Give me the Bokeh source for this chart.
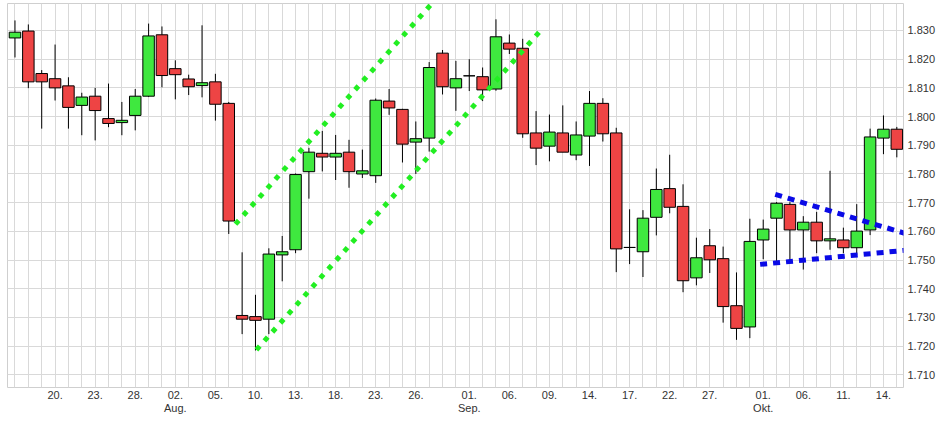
from bokeh.plotting import figure
from bokeh.models import Range1d, FixedTicker, LinearAxis, ColumnDataSource
from bokeh.embed import file_html
from bokeh.resources import INLINE

# ---------------- data ----------------
opens = [1.8274, 1.8298, 1.8150, 1.8132, 1.8107, 1.8039, 1.8071, 1.7993, 1.7979, 1.8004,
         1.8071, 1.8285, 1.8167, 1.8131, 1.8108, 1.8121, 1.8046, 1.7307, 1.7303, 1.7294,
         1.7518, 1.7536, 1.7808, 1.7872, 1.7859, 1.7876, 1.7800, 1.7794, 1.8054, 1.8025,
         1.7911, 1.7925, 1.8221, 1.8100, 1.8142, 1.8139, 1.8096, 1.8256, 1.8238, 1.7943,
         1.7897, 1.7943, 1.7866, 1.7932, 1.8046, 1.7943, 1.7544, 1.7529, 1.7649, 1.7749,
         1.7687, 1.7438, 1.7550, 1.7505, 1.7341, 1.7267, 1.7570, 1.7646, 1.7694, 1.7605,
         1.7632, 1.7567, 1.7570, 1.7543, 1.7605, 1.7925, 1.7956]
highs = [1.8335, 1.8321, 1.8162, 1.8251, 1.8137, 1.8083, 1.8100, 1.8115, 1.8051, 1.8096,
         1.8324, 1.8314, 1.8196, 1.8146, 1.8318, 1.8149, 1.8051, 1.7527, 1.7379, 1.7541,
         1.7584, 1.7802, 1.7891, 1.7950, 1.7936, 1.7919, 1.7885, 1.8063, 1.8096, 1.8027,
         1.7983, 1.8190, 1.8232, 1.8194, 1.8200, 1.8171, 1.8339, 1.8286, 1.8271, 1.8019,
         1.8007, 1.8039, 1.7983, 1.8089, 1.8064, 1.7961, 1.7677, 1.7674, 1.7819, 1.7867,
         1.7764, 1.7578, 1.7608, 1.7547, 1.7457, 1.7644, 1.7641, 1.7702, 1.7702, 1.7653,
         1.7668, 1.7811, 1.7613, 1.7695, 1.7958, 1.8004, 1.7964]
lows = [1.8206, 1.8099, 1.7958, 1.8056, 1.7958, 1.7935, 1.7917, 1.7963, 1.7935, 1.7952,
        1.8068, 1.8102, 1.8060, 1.8075, 1.8067, 1.7986, 1.7591, 1.7242, 1.7185, 1.7242,
        1.7426, 1.7524, 1.7714, 1.7809, 1.7779, 1.7752, 1.7786, 1.7769, 1.8006, 1.7840,
        1.7800, 1.7878, 1.8077, 1.8020, 1.8089, 1.8054, 1.8090, 1.8218, 1.7926, 1.7831,
        1.7844, 1.7876, 1.7848, 1.7828, 1.7913, 1.7458, 1.7486, 1.7441, 1.7586, 1.7663,
        1.7388, 1.7412, 1.7455, 1.7282, 1.7222, 1.7228, 1.7503, 1.7497, 1.7497, 1.7467,
        1.7524, 1.7536, 1.7524, 1.7518, 1.7587, 1.7869, 1.7858]
closes = [1.8294, 1.8121, 1.8121, 1.8100, 1.8032, 1.8068, 1.8021, 1.7976, 1.7987, 1.8071,
          1.8281, 1.8143, 1.8146, 1.8104, 1.8118, 1.8043, 1.7636, 1.7294, 1.7290, 1.7521,
          1.7529, 1.7798, 1.7876, 1.7859, 1.7872, 1.7808, 1.7811, 1.8057, 1.8030, 1.7904,
          1.7923, 1.8171, 1.8104, 1.8132, 1.8142, 1.8093, 1.8278, 1.8235, 1.7940, 1.7890,
          1.7946, 1.7876, 1.7936, 1.8046, 1.7940, 1.7539, 1.7544, 1.7646, 1.7746, 1.7684,
          1.7428, 1.7508, 1.7501, 1.7338, 1.7262, 1.7565, 1.7608, 1.7698, 1.7605, 1.7632,
          1.7567, 1.7574, 1.7543, 1.7601, 1.7929, 1.7956, 1.7886]

# x-axis tick labels (trading-day index -> day label)
day_ticks = [3, 6, 9, 12, 15, 18, 21, 24, 27, 30, 34, 37, 40, 43, 46, 49, 52, 56, 59, 62, 65]
day_labels = ["20.", "23.", "28.", "02.", "05.", "10.", "13.", "18.", "23.", "26.",
              "01.", "06.", "09.", "14.", "17.", "22.", "27.", "01.", "06.", "11.", "14."]
month_ticks = [12, 34, 56]
month_labels = ["Aug.", "Sep.", "Okt."]

# y-axis ticks
y_ticks = [1.71, 1.72, 1.73, 1.74, 1.75, 1.76, 1.77, 1.78, 1.79, 1.80, 1.81, 1.82, 1.83]
y_labels = ["1.710", "1.720", "1.730", "1.740", "1.750", "1.760", "1.770",
            "1.780", "1.790", "1.800", "1.810", "1.820", "1.830"]

# hand-drawn trend lines (index, price)
green_upper_x = [16.5, 31.2]
green_upper_y = [1.7625, 1.8394]
green_lower_x = [18.07, 39.54]
green_lower_y = [1.7187, 1.8310]
blue_upper_x = [56.9, 66.84]
blue_upper_y = [1.7729, 1.7590]
blue_lower_x = [55.77, 66.84]
blue_lower_y = [1.7485, 1.7535]

# ---------------- plot ----------------
GREEN = "#3fe83f"
RED = "#ee4444"
GRID = "#d9d9d9"
FONT = "Liberation Sans"

n = len(opens)
xs = list(range(n))
src = ColumnDataSource(dict(
    x=xs,
    top=[max(o, c) for o, c in zip(opens, closes)],
    bottom=[min(o, c) for o, c in zip(opens, closes)],
    high=highs,
    low=lows,
    color=[GREEN if c >= o else RED for o, c in zip(opens, closes)],
))

p = figure(width=940, height=417,
           x_range=Range1d(-0.56, 66.5), y_range=Range1d(1.7056, 1.8394),
           y_axis_location="right", output_backend="svg", toolbar_location=None,
           min_border_left=7, min_border_top=3, min_border_right=37, min_border_bottom=30)
p.background_fill_color = "white"
p.border_fill_color = "white"
p.outline_line_color = "#cfcfcf"
p.outline_line_width = 1

# grids
p.xgrid.ticker = FixedTicker(ticks=xs)
p.xgrid.grid_line_color = GRID
p.ygrid.grid_line_color = GRID

# x axis (days)
xa = p.xaxis[0]
xa.ticker = FixedTicker(ticks=day_ticks)
xa.major_label_overrides = {t: l for t, l in zip(day_ticks, day_labels)}
xa.axis_line_color = None
xa.major_tick_line_color = None
xa.minor_tick_line_color = None
xa.major_tick_out = 0
xa.major_tick_in = 0
xa.major_label_standoff = 3
xa.major_label_text_font = FONT
xa.major_label_text_font_size = "11px"
xa.major_label_text_color = "#333333"

# month axis
ma = LinearAxis(ticker=FixedTicker(ticks=month_ticks),
                major_label_overrides={t: l for t, l in zip(month_ticks, month_labels)},
                axis_line_color=None, major_tick_line_color=None, minor_tick_line_color=None,
                major_tick_out=0, major_tick_in=0, major_label_standoff=0,
                major_label_text_font=FONT, major_label_text_font_size="11px",
                major_label_text_color="#333333")
p.add_layout(ma, "below")

# y axis
ya = p.yaxis[0]
ya.ticker = FixedTicker(ticks=y_ticks)
ya.major_label_overrides = {t: l for t, l in zip(y_ticks, y_labels)}
ya.axis_line_color = None
ya.major_tick_line_color = None
ya.minor_tick_line_color = None
ya.major_tick_out = 0
ya.major_tick_in = 0
ya.major_label_standoff = 4
ya.major_label_text_font = FONT
ya.major_label_text_font_size = "11px"
ya.major_label_text_color = "#333333"

# candles
p.segment(x0="x", y0="high", x1="x", y1="low", source=src, line_color="black", line_width=1)
p.vbar(x="x", width=0.86, top="top", bottom="bottom", source=src,
       fill_color="color", line_color="black", line_width=1)

# trend lines
p.line(green_upper_x, green_upper_y, line_color="#22ee22", line_width=5, line_dash="5 7")
p.line(green_lower_x, green_lower_y, line_color="#22ee22", line_width=5, line_dash="5 7")
p.line(blue_upper_x, blue_upper_y, line_color="#0a0ae6", line_width=5, line_dash="7 6")
p.line(blue_lower_x, blue_lower_y, line_color="#0a0ae6", line_width=5, line_dash="7 6")

open("out.html", "w").write(file_html(p, INLINE))
